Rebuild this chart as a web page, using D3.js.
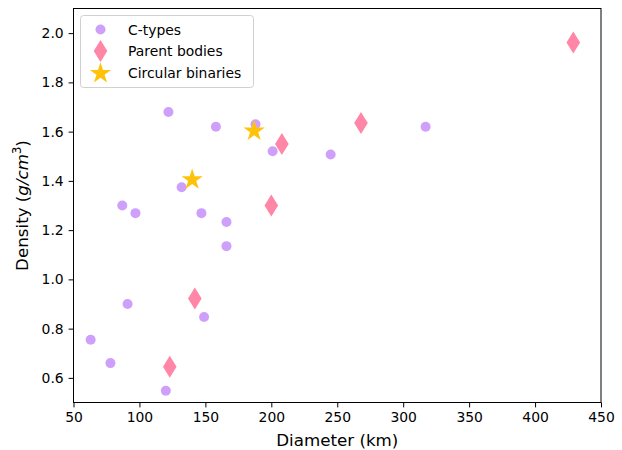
<html>
<head>
<style>
  body { margin: 0; background: #fff; }
  svg { font-family: "DejaVu Sans", sans-serif; }
  .axis text { fill: #000; }
  .axis line, .axis path { stroke: #000; }
</style>
</head>
<body>
<svg width="622" height="450"></svg>
<script src="https://cdn.jsdelivr.net/npm/d3@7"></script>
<script>
// C-types: diameter (km), density
let ctypeDiam = [122, 158, 188, 201, 245, 317, 132, 87, 97, 147, 166, 166, 91, 149, 63, 78, 120]
let ctypeDens = [1.68, 1.62, 1.63, 1.52, 1.507, 1.62, 1.374, 1.30, 1.269, 1.269, 1.233, 1.135, 0.90, 0.847, 0.755, 0.66, 0.548]

// parent bodies
let parentDiam = [429, 268, 208, 200, 142, 123]
let parentDens = [1.962, 1.635, 1.55, 1.30, 0.922, 0.645]

// circular binaries
let binaryDiam = [187, 140]
let binaryDens = [1.603, 1.405]

let xTicks = [50, 100, 150, 200, 250, 300, 350, 400, 450]
let yTicks = [0.6, 0.8, 1.0, 1.2, 1.4, 1.6, 1.8, 2.0]

let legendNames = ["C-types", "Parent bodies", "Circular binaries"]
let colors = ["#cfa0fb", "#ff86a6", "#ffc20a"]

let margin = {top: 8.5, right: 21, bottom: 47.5, left: 73.5}
let width = 622, height = 450

let svg = d3.select("svg")

let x = d3.scaleLinear()
    .domain([50, 450])
    .range([margin.left, width - margin.right])

let y = d3.scaleLinear()
    .domain([0.5, 2.1])
    .range([height - margin.bottom, margin.top])

svg.append("g")
    .attr("class", "x axis")
    .attr("transform", `translate(0, ${height - margin.bottom})`)
    .call(d3.axisBottom(x).tickValues(xTicks).tickSize(4.9).tickPadding(4.9).tickFormat(d3.format("d")))
    .call(g => g.selectAll(".domain").remove())

svg.append("g")
    .attr("class", "y axis")
    .attr("transform", `translate(${margin.left}, 0)`)
    .call(d3.axisLeft(y).tickValues(yTicks).tickSize(4.9).tickPadding(4.9).tickFormat(d3.format(".1f")))
    .call(g => g.selectAll(".domain").remove())

svg.selectAll(".axis text").attr("font-family", "DejaVu Sans").attr("font-size", 13.9)

let star = d3.symbol().type(d3.symbolStar).size(140)
let diamond = d => `M0,-11L6.8,0L0,11L-6.8,0Z`

let pts = svg.append("g")

pts.selectAll(".ctype")
    .data(d3.zip(ctypeDiam, ctypeDens))
    .join("circle")
    .attr("class", "ctype")
    .attr("cx", d => x(d[0]))
    .attr("cy", d => y(d[1]))
    .attr("r", 5)
    .attr("fill", colors[0])

pts.selectAll(".parent")
    .data(d3.zip(parentDiam, parentDens))
    .join("path")
    .attr("class", "parent")
    .attr("transform", d => `translate(${x(d[0])}, ${y(d[1])})`)
    .attr("d", diamond)
    .attr("fill", colors[1])

pts.selectAll(".binary")
    .data(d3.zip(binaryDiam, binaryDens))
    .join("path")
    .attr("class", "binary")
    .attr("transform", d => `translate(${x(d[0])}, ${y(d[1])})`)
    .attr("d", star)
    .attr("fill", colors[2])

// frame
svg.append("rect")
    .attr("x", margin.left)
    .attr("y", margin.top)
    .attr("width", width - margin.left - margin.right)
    .attr("height", height - margin.top - margin.bottom)
    .attr("fill", "none")
    .attr("stroke", "#000")
    .attr("stroke-width", 1)

// legend
let lg = svg.append("g").attr("transform", "translate(80.5, 15.5)")
lg.append("rect")
    .attr("width", 173)
    .attr("height", 72)
    .attr("rx", 3)
    .attr("fill", "#fff")
    .attr("fill-opacity", 0.8)
    .attr("stroke", "#d0d0d0")

legendNames.forEach((name, i) => {
    let cy = 14 + i * 21.5
    let m = lg.append("g").attr("transform", `translate(20, ${cy})`)
    if (i == 0) m.append("circle").attr("r", 5).attr("fill", colors[0])
    if (i == 1) m.append("path").attr("d", diamond).attr("fill", colors[1])
    if (i == 2) m.append("path").attr("d", star).attr("transform", "translate(0,1)").attr("fill", colors[2])
    lg.append("text")
        .attr("x", 47.5)
        .attr("y", cy + 5)
        .attr("font-size", 13.9)
        .text(name)
})

// axis labels
svg.append("text")
    .attr("x", (margin.left + width - margin.right) / 2)
    .attr("y", 446)
    .attr("text-anchor", "middle")
    .attr("font-size", 16.7)
    .text("Diameter (km)")

let yl = svg.append("text")
    .attr("transform", `translate(28, ${(margin.top + height - margin.bottom) / 2}) rotate(-90)`)
    .attr("text-anchor", "middle")
    .attr("font-size", 16.7)
yl.append("tspan").text("Density (")
yl.append("tspan").attr("font-style", "italic").text("g/cm")
yl.append("tspan").attr("font-size", 11.5).attr("dy", -7).text("3")
yl.append("tspan").attr("dy", 7).text(")")
</script>
</body>
</html>
